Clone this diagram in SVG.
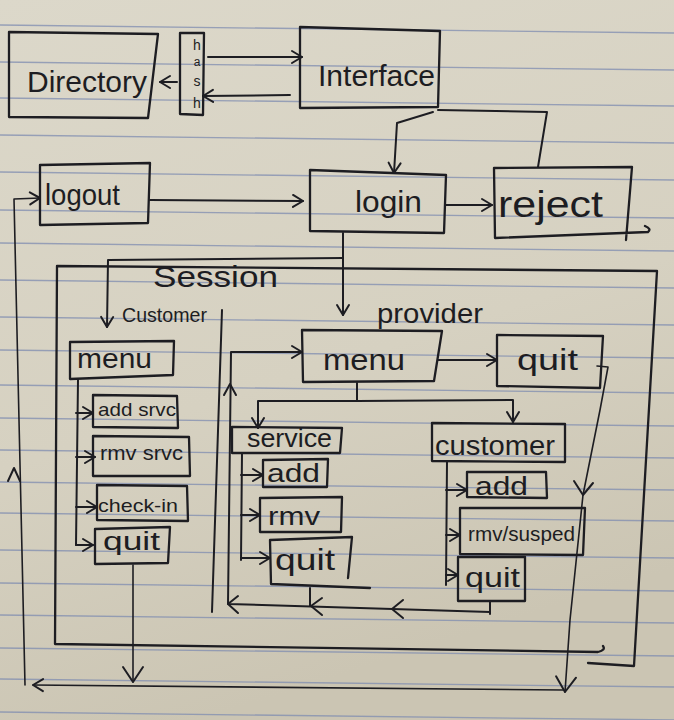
<svg xmlns="http://www.w3.org/2000/svg" width="674" height="720" viewBox="0 0 674 720">
<defs>
<linearGradient id="paper" x1="0" y1="0" x2="0.3" y2="1">
<stop offset="0" stop-color="#dcd8ca"/>
<stop offset="0.6" stop-color="#d6d1c1"/>
<stop offset="1" stop-color="#cbc5b3"/>
</linearGradient>
<marker id="ah" markerUnits="userSpaceOnUse" markerWidth="16" markerHeight="16" refX="11" refY="7" orient="auto" overflow="visible">
<path d="M1,1 L11,7 L1,13" fill="none" stroke="#1d1d22" stroke-width="2" stroke-linecap="round" stroke-linejoin="round"/>
</marker>
<marker id="ahL" markerUnits="userSpaceOnUse" markerWidth="24" markerHeight="24" refX="16" refY="11" orient="auto" overflow="visible">
<path d="M1,1 L16,11 L1,21" fill="none" stroke="#1d1d22" stroke-width="2" stroke-linecap="round" stroke-linejoin="round"/>
</marker>
</defs>
<style>
.rule{stroke:#7f8cb0;stroke-width:1.3;opacity:0.75;fill:none}
.box{fill:none;stroke:#1d1d22;stroke-width:2.3;stroke-linejoin:round;stroke-linecap:round}
.ln{fill:none;stroke:#1d1d22;stroke-width:2;stroke-linecap:round;stroke-linejoin:round}
.thin{fill:none;stroke:#1d1d22;stroke-width:1.6;stroke-linecap:round;stroke-linejoin:round}
.head{fill:none;stroke:#1d1d22;stroke-width:2;stroke-linecap:round;stroke-linejoin:round}
.a{marker-end:url(#ah)}
.aL{marker-end:url(#ahL)}
text{font-family:"Liberation Sans","DejaVu Sans",sans-serif;fill:#1d1d22}
</style>
<rect x="0" y="0" width="674" height="720" fill="url(#paper)"/>
<g id="paper-rules">
<path class="rule" d="M0,25 L674,33 M0,62 L674,70 M0,98 L674,106 M0,135 L674,143 M0,172 L674,180 M0,210 L674,218 M0,243 L674,251 M0,280 L674,288 M0,317 L674,325 M0,350 L674,358 M0,385 L674,393 M0,418 L674,426 M0,450 L674,458 M0,482 L674,490 M0,513 L674,521 M0,550 L674,558 M0,583 L674,591 M0,615 L674,623 M0,648 L674,656 M0,679 L674,687 M0,712 L674,720"/>
</g>

<g id="session">
<path class="box" d="M57,266 L657,271 L634,666 L588,663 M57,266 L55,644 L598,652 Q606,650 603,646"/>
<text x="153" y="287" font-size="30" textLength="125" lengthAdjust="spacingAndGlyphs">Session</text>
<path class="ln" d="M222,310 L212,612"/>
</g>

<g id="directory">
<path class="box" d="M9,32 L158,34 L148,118 L9,117 Z"/>
<text x="27" y="92" font-size="30" textLength="120" lengthAdjust="spacingAndGlyphs">Directory</text>
</g>
<g id="hash">
<path class="box" d="M180,33 L204,33 L203,115 L180,114 Z"/>
<text x="197" y="50" font-size="14" text-anchor="middle">h</text>
<text x="197" y="66" font-size="12" text-anchor="middle">a</text>
<text x="197" y="86" font-size="14" text-anchor="middle">s</text>
<text x="197" y="108" font-size="14" text-anchor="middle">h</text>
</g>
<g id="interface">
<path class="box" d="M300,27 L440,31 L438,107 L300,108 Z"/>
<text x="318" y="86" font-size="30" textLength="117" lengthAdjust="spacingAndGlyphs">Interface</text>
</g>
<g id="logout">
<path class="box" d="M40,165 L150,163 L148,223 L40,225 Z"/>
<text x="45" y="205" font-size="30" textLength="75" lengthAdjust="spacingAndGlyphs">logout</text>
</g>
<g id="login">
<path class="box" d="M310,170 L446,175 L444,233 L310,231 Z"/>
<text x="355" y="212" font-size="30" textLength="67" lengthAdjust="spacingAndGlyphs">login</text>
</g>
<g id="reject">
<path class="box" d="M494,168 L632,167 L626,240 M494,168 L495,238 L648,232 Q652,229 645,226"/>
<text x="498" y="217" font-size="36" textLength="105" lengthAdjust="spacingAndGlyphs">reject</text>
</g>

<g id="customer-label"><text x="122" y="322" font-size="21" textLength="85" lengthAdjust="spacingAndGlyphs">Customer</text></g>
<g id="c-menu">
<path class="box" d="M70,342 L174,341 L173,375 L70,379 Z"/>
<text x="77" y="368" font-size="28" textLength="75" lengthAdjust="spacingAndGlyphs">menu</text>
</g>
<g id="c-add-srvc">
<path class="box" d="M93,395 L177,396 L178,428 L93,427 Z"/>
<text x="98" y="416" font-size="19" textLength="78" lengthAdjust="spacingAndGlyphs">add srvc</text>
</g>
<g id="c-rmv-srvc">
<path class="box" d="M93,436 L189,437 L190,476 L93,476 Z"/>
<text x="100" y="460" font-size="20" textLength="83" lengthAdjust="spacingAndGlyphs">rmv srvc</text>
</g>
<g id="c-check-in">
<path class="box" d="M97,485 L187,486 L188,521 L97,520 Z"/>
<text x="98" y="512" font-size="19" textLength="80" lengthAdjust="spacingAndGlyphs">check-in</text>
</g>
<g id="c-quit">
<path class="box" d="M95,529 L170,527 L168,563 L95,564 Z"/>
<text x="103" y="550" font-size="25" textLength="57" lengthAdjust="spacingAndGlyphs">quit</text>
</g>

<g id="provider-label"><text x="377" y="323" font-size="28" textLength="106" lengthAdjust="spacingAndGlyphs">provider</text></g>
<g id="p-menu">
<path class="box" d="M302,330 L442,331 L434,381 L303,382 Z"/>
<text x="323" y="370" font-size="30" textLength="82" lengthAdjust="spacingAndGlyphs">menu</text>
</g>
<g id="p-quit">
<path class="box" d="M497,335 L603,336 L600,388 L497,386 Z"/>
<text x="517" y="370" font-size="30" textLength="61" lengthAdjust="spacingAndGlyphs">quit</text>
</g>
<g id="s-service">
<path class="box" d="M232,427 L342,428 L340,453 L232,453 Z"/>
<text x="247" y="447" font-size="25" textLength="85" lengthAdjust="spacingAndGlyphs">service</text>
</g>
<g id="s-add">
<path class="box" d="M263,460 L328,459 L327,487 L263,487 Z"/>
<text x="267" y="482" font-size="26" textLength="53" lengthAdjust="spacingAndGlyphs">add</text>
</g>
<g id="s-rmv">
<path class="box" d="M260,498 L342,497 L341,532 L260,532 Z"/>
<text x="268" y="525" font-size="26" textLength="52" lengthAdjust="spacingAndGlyphs">rmv</text>
</g>
<g id="s-quit">
<path class="box" d="M270,540 L352,537 L348,578 M270,540 L271,584 L370,588"/>
<text x="275" y="570" font-size="30" textLength="60" lengthAdjust="spacingAndGlyphs">quit</text>
</g>
<g id="pc-customer">
<path class="box" d="M432,423 L565,424 L565,462 L432,461 Z"/>
<text x="435" y="455" font-size="27" textLength="120" lengthAdjust="spacingAndGlyphs">customer</text>
</g>
<g id="pc-add">
<path class="box" d="M467,472 L546,472 L547,498 L467,497 Z"/>
<text x="475" y="495" font-size="26" textLength="53" lengthAdjust="spacingAndGlyphs">add</text>
</g>
<g id="pc-rmv-susped">
<path class="box" d="M460,508 L585,508 L583,555 L460,554 Z"/>
<text x="468" y="541" font-size="21" textLength="107" lengthAdjust="spacingAndGlyphs">rmv/susped</text>
</g>
<g id="pc-quit">
<path class="box" d="M458,557 L525,557 L525,601 L458,601 Z"/>
<text x="465" y="587" font-size="27" textLength="55" lengthAdjust="spacingAndGlyphs">quit</text>
</g>

<g id="connectors">
<path class="ln a" d="M208,57 L302,57"/>
<path class="ln a" d="M290,95 L203,96"/>
<path class="ln a" d="M177,82 L160,82"/>
<path class="ln" d="M438,110 L547,112 L538,167"/>
<path class="ln a" d="M433,112 L397,123 L394,173"/>
<path class="ln a" d="M150,200 L303,201"/>
<path class="ln a" d="M446,205 L492,205"/>
<path class="ln a" d="M343,233 L343,315"/>
<path class="ln a" d="M343,258 L108,260 L107,327"/>
<path class="ln" d="M78,380 L76,545"/>
<path class="ln a" d="M76,413 L93,413"/>
<path class="ln a" d="M76,457 L95,457"/>
<path class="ln a" d="M76,507 L97,507"/>
<path class="ln a" d="M76,545 L93,545"/>
<path class="thin aL" d="M133,565 L133,682"/>
<path class="thin a" d="M563,690 L33,685"/>
<path class="thin a" d="M25,685 L14,199 L40,198"/>
<path class="head" d="M8,481 L14,468 L20,481"/>
<path class="ln a" d="M438,360 L497,360"/>
<path class="thin aL" d="M597,366 L608,367 L600,410 L583,495 L570,620 L565,692"/>
<path class="head" d="M574,481 L583,495 L593,483"/>
<path class="ln" d="M357,383 L357,401"/>
<path class="ln a" d="M357,401 L258,401 L258,428"/>
<path class="ln a" d="M357,401 L513,400 L513,422"/>
<path class="ln" d="M242,453 L241,560"/>
<path class="ln a" d="M241,475 L263,475"/>
<path class="ln a" d="M241,515 L260,515"/>
<path class="ln a" d="M241,558 L270,558"/>
<path class="ln" d="M310,588 L310,606"/>
<path class="ln" d="M447,462 L446,585"/>
<path class="ln a" d="M446,490 L467,490"/>
<path class="ln a" d="M446,535 L460,535"/>
<path class="ln a" d="M446,575 L458,575"/>
<path class="ln" d="M490,601 L490,614"/>
<path class="ln a" d="M490,612 L228,604 L231,352 L302,352"/>
<path class="head" d="M238,596 L228,604 L238,613"/>
<path class="head" d="M322,598 L311,606 L322,615"/>
<path class="head" d="M403,600 L392,609 L403,618"/>
<path class="head" d="M224,395 L230,384 L236,395"/>
</g>
</svg>
